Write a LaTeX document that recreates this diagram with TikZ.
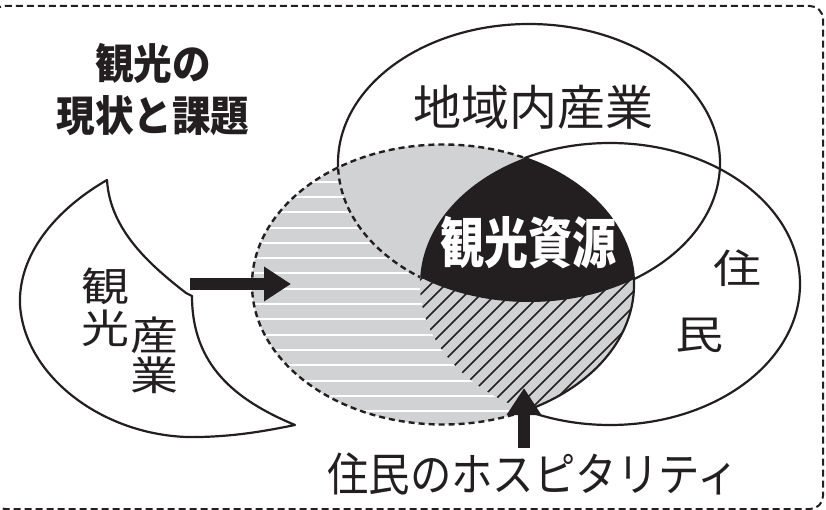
\documentclass[tikz,border=0pt]{standalone}
\usepackage{fontspec}
\usetikzlibrary{arrows.meta}
\setmainfont{Noto Sans CJK JP}
\newfontfamily\jpbold{Noto Sans CJK JP}[FakeStretch=0.92]
\newfontfamily\jpheavy{Noto Sans CJK JP}[FakeStretch=0.8]
\newfontfamily\jpwide{Noto Sans CJK JP}[FakeStretch=1.2]
\newfontfamily\jpnarrow{Noto Sans CJK JP}[FakeStretch=0.9]
\definecolor{ink}{RGB}{35,31,32}
\definecolor{areagray}{RGB}{209,210,212}
\def\touell{(443,284.5) ellipse [x radius=191, y radius=140]}
\def\indell{(529,163) ellipse [x radius=191, y radius=139]}
\def\resell{(610,284) ellipse [x radius=190, y radius=141]}
\def\outside{(-30,-30) rectangle (860,540)}

\begin{document}
\begin{tikzpicture}[x=1pt, y=-1pt, line join=round]
        \tikzstyle{every node}=[inner sep=0pt, text=ink]
        \tikzstyle{outline}=[draw=ink, line width=2.2pt]
        \tikzstyle{dashline}=[draw=ink, line width=2.4pt, dash pattern=on 6pt off 4pt]
        \tikzstyle{bigarrow}=[draw=ink, line width=12pt, line join=miter, -{Triangle[length=27pt, width=33pt]}]
        \useasboundingbox (0,0) rectangle (826,510);
        \draw[ink, line width=2pt, dash pattern=on 7pt off 4pt, rounded corners=13pt] (-8,6) rectangle (823,509);
        \draw[outline, fill=white] (107,180) .. controls (55,210) and (18,255) .. (20,305) .. controls (25,380) and (110,440) .. (200,437) .. controls (240,436) and (270,430) .. (295,425) .. controls (235,400) and (192,365) .. (192,296) -- (186,293) .. controls (150,265) and (110,230) .. (107,180) -- cycle;
        \fill[areagray] \touell;
        \begin{scope}
            \clip \touell;
            \foreach \k in {0,...,17}
                \draw[white, line width=2pt] (240,166.4+15.3*\k) -- (650,166.4+15.3*\k);
            \fill[areagray] \indell;
            \fill[areagray] \resell;
            \clip \resell;
            \foreach \c in {700,715,...,1015}
                \draw[ink, line width=1.5pt] (\c-440,440) -- (\c-220,220);
            \clip \indell;
            \fill[ink] (400,140) rectangle (650,320);
        \end{scope}
        \begin{scope}[even odd rule]
            \clip \outside \touell;
            \draw[outline] \indell;
            \draw[outline] \resell;
        \end{scope}
        \begin{scope}[even odd rule]
            \clip \touell;
            \clip \outside \resell;
            \draw[dashline] \indell;
        \end{scope}
        \begin{scope}[even odd rule]
            \clip \outside \resell;
            \draw[dashline] \touell;
        \end{scope}
        \begin{scope}
            \clip \resell;
            \draw[outline] \touell;
        \end{scope}
        \node[font=\jpbold\bfseries\fontsize{42}{52}\selectfont, align=center] (title) at (153,90) {観光の\\現状と課題};
        \node[font=\fontsize{48}{48}\selectfont] (ind) at (533,107) {地域内産業};
        \node[font=\jpheavy\bfseries\fontsize{55}{55}\selectfont, text=white] (res) at (528,243) {観光資源};
        \node[font=\jpwide\fontsize{40}{42}\selectfont, align=center] (kanko) at (105,307) {観\\光};
        \node[font=\jpwide\fontsize{40}{40}\selectfont, align=center] (sangyo) at (154,355) {産\\業};
        \node[font=\jpwide\fontsize{40}{40}\selectfont] (ju) at (737,268) {住};
        \node[font=\jpwide\fontsize{40}{40}\selectfont] (min) at (699,335) {民};
        \node[font=\jpnarrow\fontsize{46}{46}\selectfont] (hosp) at (533,474) {住民のホスピタリティ};
        \coordinate (kfrom) at (190,284);
        \coordinate (kto) at (291,284);
        \coordinate (hto) at (524,388);
        \draw[bigarrow] (kfrom) -- (kto);
        \draw[bigarrow] ([yshift=5pt]hto |- hosp.north) -- (hto);
    \end{tikzpicture}
\end{document}
